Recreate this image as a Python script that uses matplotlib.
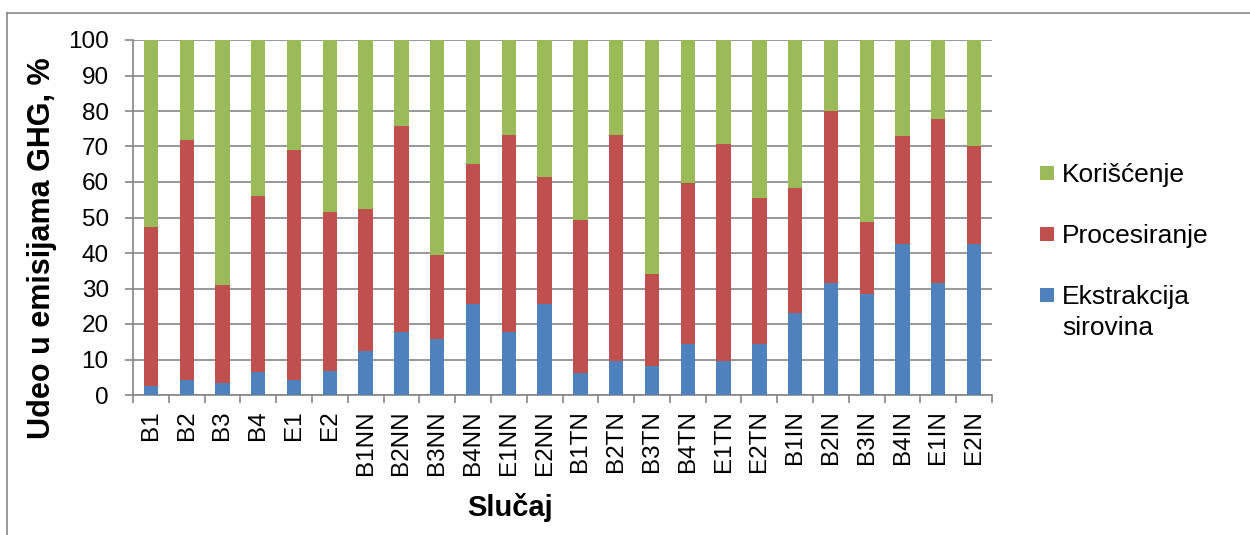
import numpy as np
import matplotlib.pyplot as plt
from matplotlib.patches import Rectangle
from matplotlib.lines import Line2D

plt.rcParams['font.family'] = ['Liberation Sans', 'DejaVu Sans']

# Share of GHG emissions per case, %
cases = ['B1', 'B2', 'B3', 'B4', 'E1', 'E2',
         'B1NN', 'B2NN', 'B3NN', 'B4NN', 'E1NN', 'E2NN',
         'B1TN', 'B2TN', 'B3TN', 'B4TN', 'E1TN', 'E2TN',
         'B1IN', 'B2IN', 'B3IN', 'B4IN', 'E1IN', 'E2IN']
ekstrakcija = [2.6, 4.1, 3.5, 6.5, 4.1, 6.7,
               12.3, 17.7, 15.7, 25.7, 17.7, 25.7,
               6.2, 9.5, 8.1, 14.3, 9.5, 14.3,
               23.0, 31.5, 28.4, 42.4, 31.5, 42.4]
procesiranje = [44.7, 67.8, 27.5, 49.6, 65.0, 44.9,
                40.2, 58.2, 23.7, 39.4, 55.6, 35.8,
                43.0, 63.8, 26.1, 45.4, 61.3, 41.3,
                35.4, 48.4, 20.3, 30.6, 46.3, 27.8]
koriscenje = [52.7, 28.1, 69.0, 43.9, 30.9, 48.4,
              47.5, 24.1, 60.6, 34.9, 26.7, 38.5,
              50.8, 26.7, 65.8, 40.3, 29.2, 44.4,
              41.6, 20.1, 51.3, 27.0, 22.2, 29.8]

series_labels = ['Ekstrakcija\nsirovina', 'Procesiranje', 'Korišćenje']
colors = ['#4F81BD', '#C0504D', '#9BBB59']
grid_gray = '#868686'

W, H = 1250, 535
fig = plt.figure(figsize=(W / 100, H / 100), dpi=100)

# plot area in pixel terms
x0, x1, y_top, y_bot = 133, 992, 40, 395
ax = fig.add_axes([x0 / W, 1 - y_bot / H, (x1 - x0) / W, (y_bot - y_top) / H])

x = np.arange(len(cases))
bottom = np.zeros(len(cases))
for vals, c in zip([ekstrakcija, procesiranje, koriscenje], colors):
    ax.bar(x, vals, width=0.4, bottom=bottom, color=c, zorder=3)
    bottom += np.array(vals)

ax.set_xlim(-0.5, len(cases) - 0.5)
ax.set_ylim(0, 100)
ax.set_yticks(np.arange(0, 101, 10))
ax.yaxis.grid(True, color=grid_gray, linewidth=1.2)
ax.set_axisbelow(True)

ax.set_xticks(x)
ax.set_xticklabels(cases, rotation=90, va='top', ha='center')
ax.set_xticks(np.arange(-0.5, len(cases)), minor=True)
ax.tick_params(axis='x', which='major', length=0, pad=11, labelsize=17.5)
ax.tick_params(axis='x', which='minor', length=5.5, width=1.2, color=grid_gray,
               direction='out')
ax.tick_params(axis='y', length=5.5, width=1.2, color=grid_gray, pad=12,
               labelsize=17.5)

for side in ['top', 'right']:
    ax.spines[side].set_visible(False)
for side in ['left', 'bottom']:
    ax.spines[side].set_color(grid_gray)
    ax.spines[side].set_linewidth(1.2)

fig.text(42 / W, 1 - 248 / H, 'Udeo u emisijama GHG, %', rotation=90,
         ha='center', va='center', fontsize=22, fontweight='bold')
fig.text(510 / W, 1 - 508 / H, 'Slučaj', ha='center', va='center',
         fontsize=21, fontweight='bold')

# legend drawn by hand, top entry is the last series;
# wrapped labels go line by line so the square sits by the first line
leg_y = [295, 234, 172.5]
for lab, c, yc in zip(series_labels, colors, leg_y):
    fig.patches.append(Rectangle((1040 / W, 1 - (yc + 7) / H), 14 / W, 14 / H,
                                 transform=fig.transFigure, facecolor=c,
                                 edgecolor='none'))
    for i, line in enumerate(lab.split('\n')):
        fig.text(1062 / W, 1 - (yc + 9 + 31 * i) / H, line, ha='left',
                 va='baseline', fontsize=19)

# chart frame
fig.add_artist(Line2D([7 / W, 7 / W], [0, 1 - 13 / H], transform=fig.transFigure,
                      color='#878787', linewidth=1.2))
fig.add_artist(Line2D([7 / W, 1], [1 - 13 / H, 1 - 13 / H], transform=fig.transFigure,
                      color='#878787', linewidth=1.2))

fig.savefig('out.png', dpi=100, facecolor='white')
